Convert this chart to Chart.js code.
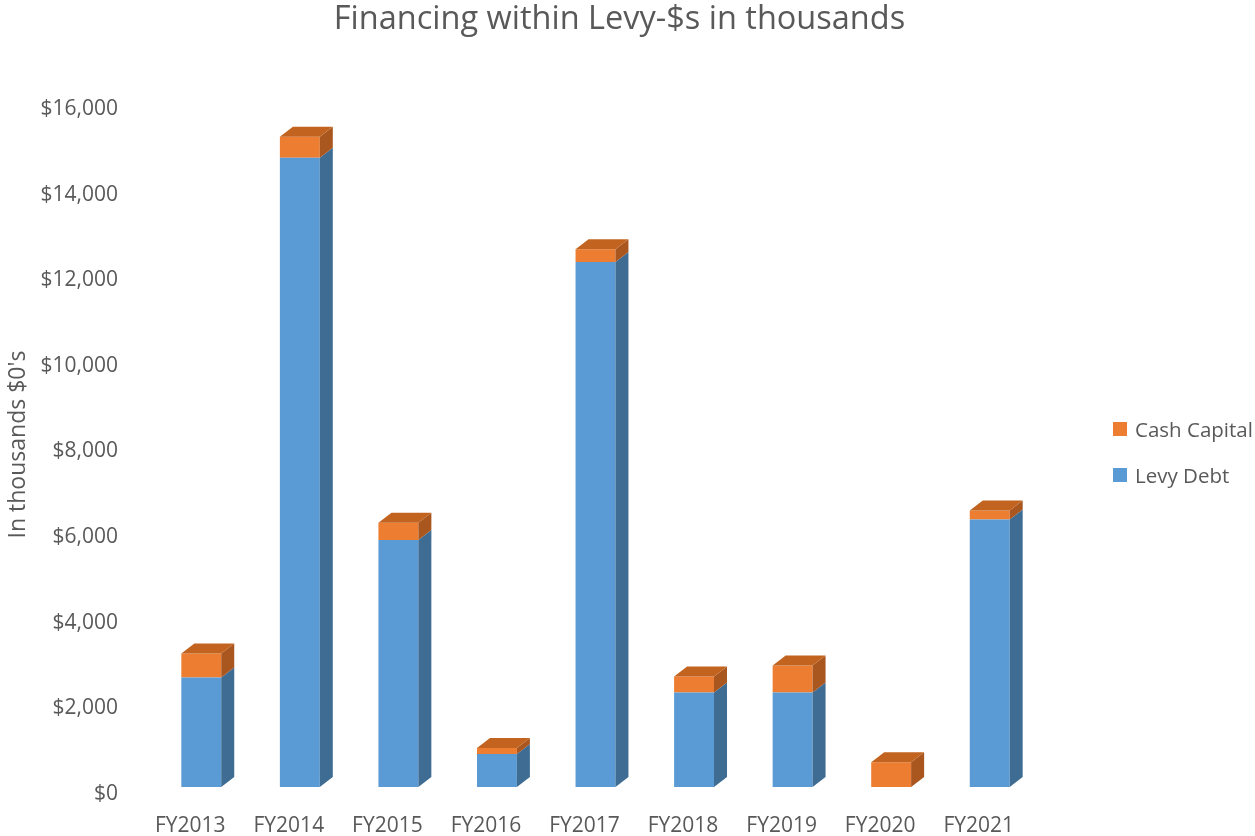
<!DOCTYPE html>
<html>
<head>
<meta charset="utf-8">
<title>Financing within Levy-$s</title>
<script src="https://cdn.jsdelivr.net/npm/chart.js@4.4.0/dist/chart.umd.min.js"></script>
<style>
  html, body { margin: 0; padding: 0; background: #fff; }
  #wrap { position: relative; width: 1255px; height: 836px; }
  #legend { position: absolute; left: 1113px; top: 415px; font-family: "Open Sans", sans-serif; font-size: 20.5px; color: #595959; white-space: nowrap; }
  #legend div { display: flex; align-items: center; height: 28px; margin-bottom: 18px; }
  #legend span.box { width: 14px; height: 14px; margin-right: 8px; display: inline-block; }
</style>
</head>
<body>
<div id="wrap">
  <canvas id="levyChart" width="1255" height="836"></canvas>
  <div id="legend"></div>
</div>
<script>
const years = ['FY2013', 'FY2014', 'FY2015', 'FY2016', 'FY2017', 'FY2018', 'FY2019', 'FY2020', 'FY2021'];
const levyDebt = [2560, 14700, 5770, 770, 12260, 2210, 2210, 0, 6250];
const cashCapital = [560, 490, 400, 140, 300, 370, 630, 580, 210];
const yTicks = [0, 2000, 4000, 6000, 8000, 10000, 12000, 14000, 16000];

const textColor = '#595959';
const font = '"Open Sans", sans-serif';

// colours for front / side / top faces of each series
const faces = [
  { front: '#5B9BD5', side: '#3E6C93', top: '#4A7FB0' },
  { front: '#ED7D31', side: '#A9561F', top: '#C2641F' }
];

// fake 3D: extrude every bar to the back-right
const DEPTH_X = 13, DEPTH_Y = 10;
const bar3d = {
  id: 'bar3d',
  afterDatasetsDraw(chart) {
    const ctx = chart.ctx;
    ctx.save();
    chart.data.datasets.forEach((dataset, di) => {
      const meta = chart.getDatasetMeta(di);
      meta.data.forEach((bar, idx) => {
        if (!dataset.data[idx]) return;
        const { x, y, base, width } = bar.getProps(['x', 'y', 'base', 'width'], true);
        const l = x - width / 2, r = x + width / 2;
        // side face
        ctx.fillStyle = faces[di].side;
        ctx.beginPath();
        ctx.moveTo(r, y);
        ctx.lineTo(r + DEPTH_X, y - DEPTH_Y);
        ctx.lineTo(r + DEPTH_X, base - DEPTH_Y);
        ctx.lineTo(r, base);
        ctx.closePath();
        ctx.fill();
        // top face only on the highest non-empty segment
        const above = chart.data.datasets.slice(di + 1).some(ds => ds.data[idx] > 0);
        if (!above) {
          ctx.fillStyle = faces[di].top;
          ctx.beginPath();
          ctx.moveTo(l, y);
          ctx.lineTo(r, y);
          ctx.lineTo(r + DEPTH_X, y - DEPTH_Y);
          ctx.lineTo(l + DEPTH_X, y - DEPTH_Y);
          ctx.closePath();
          ctx.fill();
        }
      });
    });
    ctx.restore();
  }
};

const chart = new Chart(document.getElementById('levyChart'), {
  type: 'bar',
  data: {
    labels: years,
    datasets: [
      { label: 'Levy Debt', data: levyDebt, backgroundColor: faces[0].front, borderWidth: 0 },
      { label: 'Cash Capital', data: cashCapital, backgroundColor: faces[1].front, borderWidth: 0 }
    ]
  },
  options: {
    responsive: false,
    animation: false,
    events: [],
    categoryPercentage: 1,
    barPercentage: 0.405,
    layout: { padding: { left: 0, right: 16, top: 0, bottom: 0 } },
    plugins: {
      legend: { display: false },
      tooltip: { enabled: false },
      title: {
        display: true,
        text: 'Financing within Levy-$s in thousands',
        color: textColor,
        font: { family: font, size: 32.5, weight: 'normal' },
        padding: { top: 0, bottom: 63 }
      }
    },
    scales: {
      x: {
        stacked: true,
        grid: { display: false, drawTicks: false },
        border: { display: false },
        afterFit: scale => { scale.height = 49; },
        ticks: { color: textColor, font: { family: font, size: 21 }, padding: 26, labelOffset: -11 }
      },
      y: {
        stacked: true,
        min: 0,
        max: 16000,
        grid: { display: false, drawTicks: false },
        border: { display: false },
        afterFit: scale => { scale.width = 152; },
        afterBuildTicks: scale => { scale.ticks = yTicks.map(v => ({ value: v })); },
        ticks: {
          color: textColor,
          font: { family: font, size: 21 },
          padding: 34,
          labelOffset: 7,
          callback: v => '$' + v.toLocaleString('en-US')
        },
        title: {
          display: true,
          text: "In thousands $0's",
          color: textColor,
          font: { family: font, size: 23 },
          padding: { top: 5, bottom: 0 }
        }
      },
      // empty strip on the right that holds the legend
      legendSpace: {
        position: 'right',
        grid: { display: false, drawTicks: false },
        border: { display: false },
        ticks: { display: false },
        afterFit: scale => { scale.width = 200; }
      }
    }
  },
  plugins: [bar3d]
});

// legend, listed top series first
const legendEl = document.getElementById('legend');
chart.data.datasets.slice().reverse().forEach(ds => {
  const row = document.createElement('div');
  row.innerHTML = '<span class="box" style="background:' + ds.backgroundColor + '"></span>' + ds.label;
  legendEl.appendChild(row);
});
</script>
</body>
</html>
